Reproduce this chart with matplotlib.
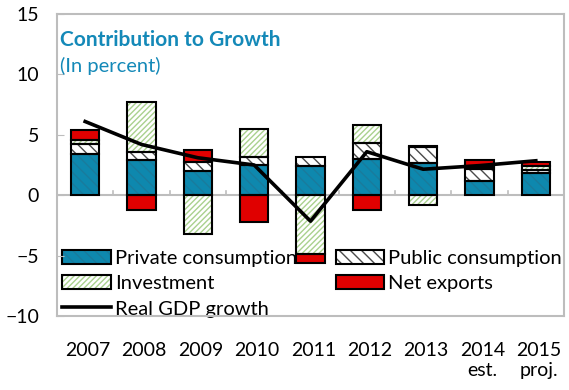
import numpy as np
import matplotlib.pyplot as plt
from matplotlib.patches import Patch
from matplotlib.lines import Line2D
import matplotlib.transforms as mtransforms

plt.rcParams['font.family'] = ['Lato', 'DejaVu Sans']
plt.rcParams['hatch.linewidth'] = 1.0

years = ["2007", "2008", "2009", "2010", "2011", "2012", "2013", "2014\nest.", "2015\nproj."]
private = [3.45, 2.9, 2.0, 2.5, 2.4, 3.0, 2.65, 1.2, 1.85]
public = [0.75, 0.65, 0.75, 0.7, 0.8, 1.3, 1.35, 1.0, 0.2]
investment = [0.35, 4.15, -3.2, 2.3, -4.85, 1.55, -0.8, 0.1, 0.4]
net_exports = [0.85, -1.2, 1.0, -2.2, -0.75, -1.2, 0.1, 0.6, 0.3]
gdp = [6.1, 4.2, 3.1, 2.5, -2.15, 3.6, 2.15, 2.45, 2.85]

blue = '#0E88AE'
red = '#E00000'
title_col = '#1489B8'
grey = '#BDBDBD'

fig = plt.figure(figsize=(5.69, 3.90), dpi=100)
ax = fig.add_axes([57 / 569, 1 - 316 / 390, (564 - 57) / 569, (316 - 14) / 390])

x = np.arange(len(years))
w = 0.5

# стилі компонент: (заливка, колір штриховки, штриховка)
styles = [
    (blue, '#1A7B9C', '\\\\\\'),
    ('white', '#4A4A4A', '\\\\\\'),
    ('white', '#A9D18E', '//////'),
    (red, red, None),
]
series = [private, public, investment, net_exports]

pos_base = np.zeros(len(x))
neg_base = np.zeros(len(x))
for vals, (fc, hc, hatch) in zip(series, styles):
    vals = np.array(vals)
    base = np.where(vals >= 0, pos_base, neg_base)
    ax.bar(x, vals, w, bottom=base, color=fc, edgecolor=hc, hatch=hatch,
           linewidth=0, zorder=3)
    ax.bar(x, vals, w, bottom=base, fill=False, edgecolor='black',
           linewidth=1.5, zorder=4)
    pos_base += np.where(vals >= 0, vals, 0)
    neg_base += np.where(vals < 0, vals, 0)

ax.plot(x, gdp, color='black', linewidth=2.6, zorder=5)

ax.set_xlim(-0.5, len(x) - 0.5)
ax.set_ylim(-10, 15)
ax.set_yticks([-10, -5, 0, 5, 10, 15])
ax.tick_params(axis='y', direction='in', length=5, color=grey, labelsize=14, pad=13)
for s in ax.spines.values():
    s.set_color(grey)
    s.set_linewidth(1.5)

# нульова лінія з рисками між роками
ax.axhline(0, color=grey, linewidth=1.5, zorder=2)
for b in x[:-1] + 0.5:
    ax.plot([b, b], [0, 0.35], color=grey, linewidth=1.2, zorder=2)
ax.set_xticks([])

trans = mtransforms.blended_transform_factory(ax.transData, ax.transAxes)
for xi, lab in zip(x, years):
    ax.text(xi + 0.05, -0.085, lab, transform=trans, ha='center', va='top',
            fontsize=14, linespacing=1.25)

ax.text(0.006, 0.915, "Contribution to Growth", transform=ax.transAxes,
        fontsize=15, fontweight='bold', color=title_col, va='center')
ax.text(0.006, 0.827, "(In percent)", transform=ax.transAxes,
        fontsize=14.5, color=title_col, va='center')


def two_layer(fc, hc, hatch):
    # заливка зі штриховкою під чорною рамкою
    return (Patch(facecolor=fc, edgecolor=hc, hatch=hatch, linewidth=0),
            Patch(fill=False, edgecolor='black', linewidth=1.5))


handles = [
    two_layer(*styles[0]),
    two_layer(*styles[2]),
    Line2D([0], [0], color='black', linewidth=2.6),
    two_layer(*styles[1]),
    two_layer(*styles[3]),
]
labels = ["Private consumption", "Investment", "Real GDP growth",
          "Public consumption", "Net exports"]
leg = ax.legend(handles, labels, ncol=2, loc='lower left', bbox_to_anchor=(-0.013, -0.045),
                frameon=False, fontsize=14.5, handlelength=2.4, handleheight=0.7,
                handletextpad=0.22, columnspacing=1.9, labelspacing=0.4,
                borderaxespad=0.2)
leg.set_zorder(1)

fig.savefig('out.png', dpi=100)
